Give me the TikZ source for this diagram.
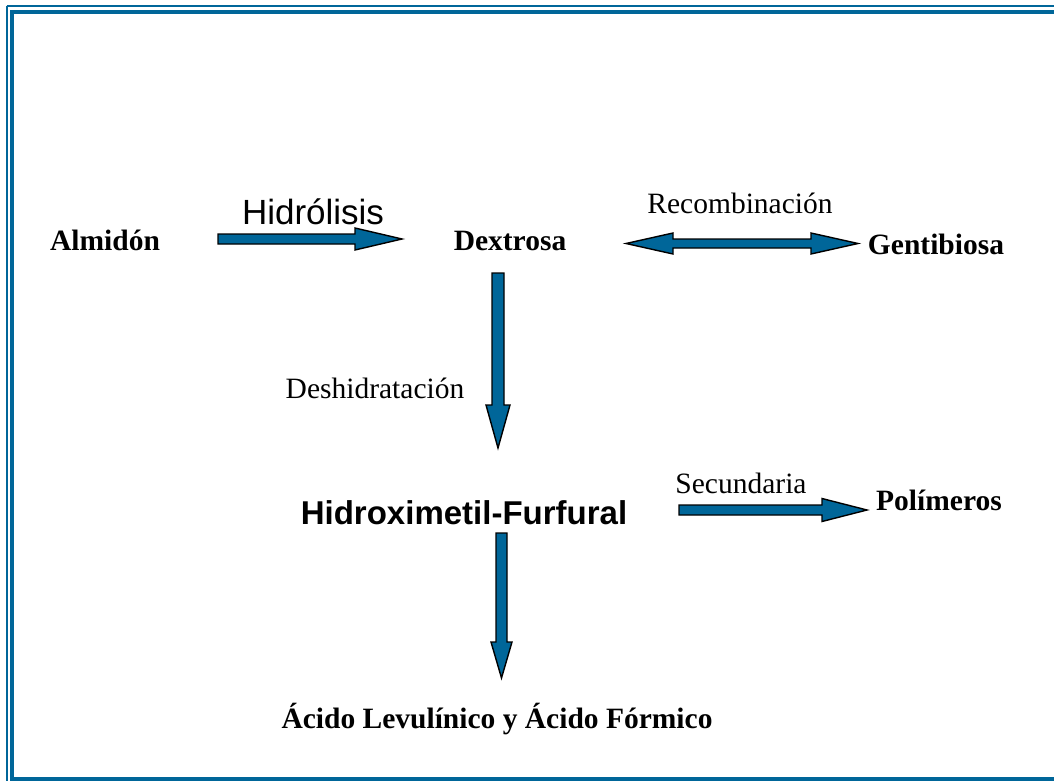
\documentclass[tikz,border=0pt]{standalone}
\usepackage{fontspec}
\setmainfont{Liberation Serif}
\newfontfamily\arialfont{Liberation Sans}
\usetikzlibrary{calc}
\definecolor{steelblue}{RGB}{0,102,153}

\tikzset{
  barrow/.style={draw=black, line width=1.4pt, fill=steelblue, line join=miter},
  chem/.style={font=\fontsize{29.5}{32}\selectfont\bfseries, anchor=base, inner sep=0pt},
  step label/.style={font=\fontsize{29.5}{32}\selectfont, anchor=base, inner sep=0pt},
  sanslabel/.style={font=\fontsize{35}{38}\selectfont\arialfont, anchor=base, inner sep=0pt},
}

% horizontal block arrow: start, tip, shaft half width, head half width, head length
\newcommand\hblock[5]{%
  \draw[barrow] ($(#1)+(0,-#3)$) -- ($(#2)+(-#5,-#3)$) -- ($(#2)+(-#5,-#4)$) -- (#2)
    -- ($(#2)+(-#5,#4)$) -- ($(#2)+(-#5,#3)$) -- ($(#1)+(0,#3)$) -- cycle;}
% vertical block arrow pointing down
\newcommand\vblock[5]{%
  \draw[barrow] ($(#1)+(-#3,0)$) -- ($(#2)+(-#3,-#5)$) -- ($(#2)+(-#4,-#5)$) -- (#2)
    -- ($(#2)+(#4,-#5)$) -- ($(#2)+(#3,-#5)$) -- ($(#1)+(#3,0)$) -- cycle;}
% horizontal double-headed block arrow
\newcommand\dblock[5]{%
  \draw[barrow] (#1) -- ($(#1)+(#5,-#4)$) -- ($(#1)+(#5,-#3)$) -- ($(#2)+(-#5,-#3)$)
    -- ($(#2)+(-#5,-#4)$) -- (#2) -- ($(#2)+(-#5,#4)$) -- ($(#2)+(-#5,#3)$)
    -- ($(#1)+(#5,#3)$) -- ($(#1)+(#5,#4)$) -- cycle;}

\begin{document}
\begin{tikzpicture}[x=1pt,y=-1pt]
\useasboundingbox (0,0) rectangle (1054,781);
\clip (0,0) rectangle (1054,781);

% double frame, running past the right and lower edges
\draw[steelblue, line width=2pt] (6.5,6.5) -- (1200,6.5);
\draw[steelblue, line width=2pt] (6.5,6.5) -- (6.5,900);
\draw[steelblue, line width=4pt] (1200,12) -- (12,12) -- (12,779) -- (1200,779);

% compounds
\node[chem] (almidon) at (105,250) {Almidón};
\node[chem] (dextrosa) at (510,250) {Dextrosa};
\node[chem] (genti) at (936,254) {Gentibiosa};
\node[font=\fontsize{33}{36}\selectfont\arialfont\bfseries, anchor=base, inner sep=0pt] (hmf) at (464,524) {Hidroximetil-Furfural};
\node[chem] (polim) at (939,510) {Polímeros};
\node[chem] (acidos) at (497,728) {Ácido Levulínico y Ácido Fórmico};

% reaction labels
\node[sanslabel] (hidro) at (313,224) {Hidrólisis};
\node[step label] (recomb) at (740,213) {Recombinación};
\node[step label] (deshid) at (375,398) {Deshidratación};
\node[step label] (secund) at (741,493) {Secundaria};

% arrow end points
\coordinate (a1s) at (218,239);
\coordinate (a1e) at (402,239);
\coordinate (a2s) at (626,243.5);
\coordinate (a2e) at (858,243.5);
\coordinate (a3s) at (498,273);
\coordinate (a3e) at (498,448);
\coordinate (a4s) at (679,510);
\coordinate (a4e) at (867,510);
\coordinate (a5s) at (501.5,533);
\coordinate (a5e) at (501.5,678);

% block arrows
\hblock{a1s}{a1e}{5}{11}{47}
\dblock{a2s}{a2e}{4.5}{10.5}{47}
\vblock{a3s}{a3e}{6}{12}{43}
\hblock{a4s}{a4e}{5}{11.5}{45}
\vblock{a5s}{a5e}{5.5}{10.5}{36}
\end{tikzpicture}
\end{document}
